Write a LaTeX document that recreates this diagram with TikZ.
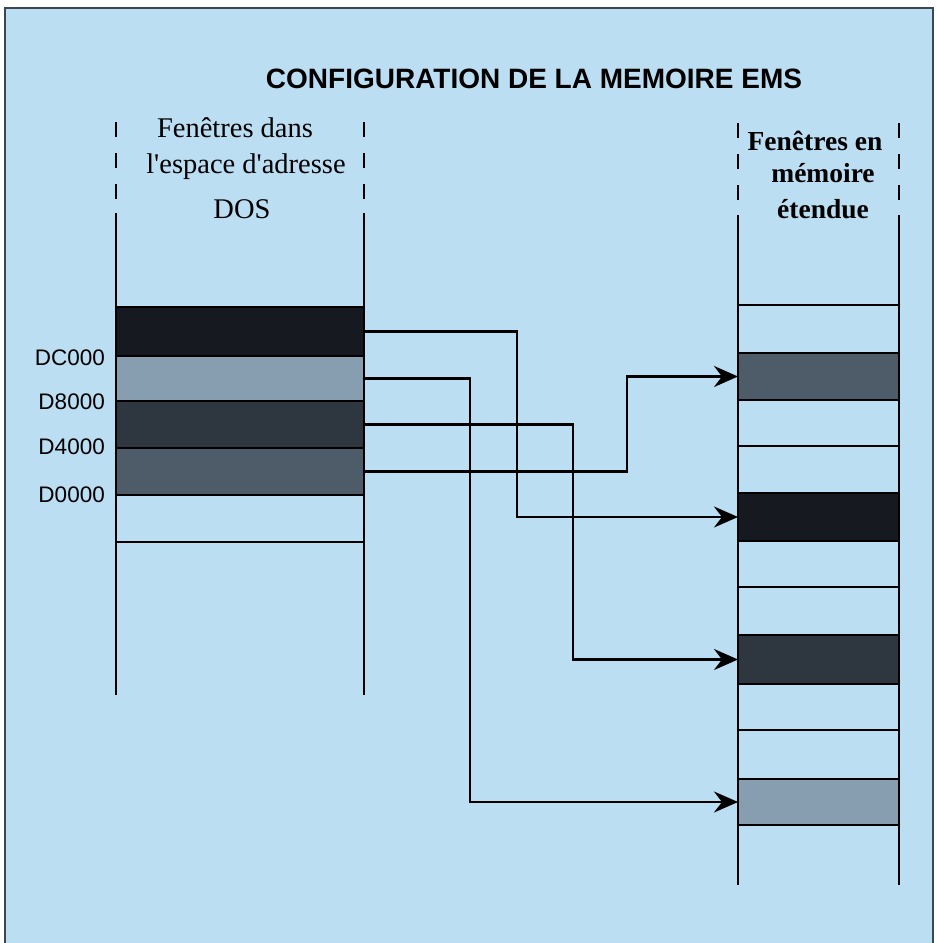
\documentclass[tikz,border=0pt]{standalone}
\usepackage{fontspec}
\setmainfont{Liberation Serif}
\newfontfamily\sansfnt{Liberation Sans}
\usetikzlibrary{arrows.meta}
\definecolor{bgblue}{RGB}{188,222,243}
\definecolor{frameline}{RGB}{60,70,80}
\definecolor{bandblack}{RGB}{22,26,32}
\definecolor{bandlight}{RGB}{135,158,176}
\definecolor{banddark}{RGB}{46,54,64}
\definecolor{bandmed}{RGB}{78,92,106}
\begin{document}
\begin{tikzpicture}[x=1pt,y=-1pt,
  colline/.style={line width=2.2pt, black},
  dashline/.style={line width=2.2pt, black, dash pattern=on 15pt off 16pt},
  lband/.style={draw=black, line width=2.2pt, minimum width=248pt, minimum height=#1, inner sep=0pt, outer sep=0pt},
  rband/.style={draw=black, line width=2.2pt, minimum width=161pt, minimum height=#1, inner sep=0pt, outer sep=0pt},
  arr/.style={line width=2.6pt, black, -{Stealth[length=24pt, width=21pt, inset=8pt]}},
  addr/.style={anchor=east, inner sep=0pt, font=\sansfnt\fontsize{22.5}{26}\selectfont},
  hdr/.style={anchor=base, inner sep=0pt, font=\fontsize{28.5}{34}\selectfont},
  hdrb/.style={anchor=base, inner sep=0pt, font=\bfseries\fontsize{27.5}{33}\selectfont},
  ttl/.style={anchor=base, inner sep=0pt, font=\sansfnt\bfseries\fontsize{28}{34}\selectfont}
]
\useasboundingbox (0,0) rectangle (937,943);
\fill[white] (0,0) rectangle (937,943);
\fill[bgblue] (5,8) rectangle (933,943);
\draw[frameline, line width=1.2pt] (5,943) -- (5,8) -- (933,8) -- (933,943);

% title
\node[ttl] (title) at (534,88) {CONFIGURATION DE LA MEMOIRE EMS};

% headers
\node[hdr] (h1) at (235,137) {Fenêtres dans};
\node[hdr] (h2) at (246,173) {l\textquotesingle espace d\textquotesingle adresse};
\node[hdr] (h3) at (242,218) {DOS};
\node[hdrb] (h4) at (815,150) {Fenêtres en};
\node[hdrb] (h5) at (823,182) {mémoire};
\node[hdrb] (h6) at (823,218) {étendue};

% left column
\draw[dashline] (116,122) -- (116,201);
\draw[dashline] (364,122) -- (364,201);
\draw[colline] (116,213) -- (116,695);
\draw[colline] (364,213) -- (364,695);

\node[lband=49pt, fill=bandblack] (L1) at (240,331.5) {};
\node[lband=45pt, fill=bandlight] (L2) at (240,378.5) {};
\node[lband=47pt, fill=banddark]  (L3) at (240,424.5) {};
\node[lband=47pt, fill=bandmed]   (L4) at (240,471.5) {};
\node[lband=47pt]                 (L5) at (240,518.5) {};

% right column
\draw[dashline] (738,123) -- (738,202);
\draw[dashline] (899,123) -- (899,202);
\draw[colline] (738,215) -- (738,885);
\draw[colline] (899,215) -- (899,885);

\node[rband=48pt] (Ra) at (818.5,329) {};
\node[rband=47pt, fill=bandmed] (R4) at (818.5,376.5) {};
\node[rband=46pt] (Rb) at (818.5,423) {};
\node[rband=47pt] (Rc) at (818.5,469.5) {};
\node[rband=48pt, fill=bandblack] (R1) at (818.5,517) {};
\node[rband=46pt] (Rd) at (818.5,564) {};
\node[rband=48pt] (Re) at (818.5,611) {};
\node[rband=49pt, fill=banddark] (R3) at (818.5,659.5) {};
\node[rband=46pt] (Rf) at (818.5,707) {};
\node[rband=49pt] (Rg) at (818.5,754.5) {};
\node[rband=46pt, fill=bandlight] (R2) at (818.5,802) {};

% address labels
\node[addr] (aDC) at (105,358) {DC000};
\node[addr] (aD8) at (105,402) {D8000};
\node[addr] (aD4) at (105,447) {D4000};
\node[addr] (aD0) at (105,495) {D0000};

% connectors
\draw[arr] (L1.east) -- ++(153,0) |- (R1.west);
\draw[arr] (L2.east) -- ++(106,0) |- (R2.west);
\draw[arr] (L3.east) -- ++(209,0) |- (R3.west);
\draw[arr] (L4.east) -- ++(263,0) |- (R4.west);
\end{tikzpicture}
\end{document}
